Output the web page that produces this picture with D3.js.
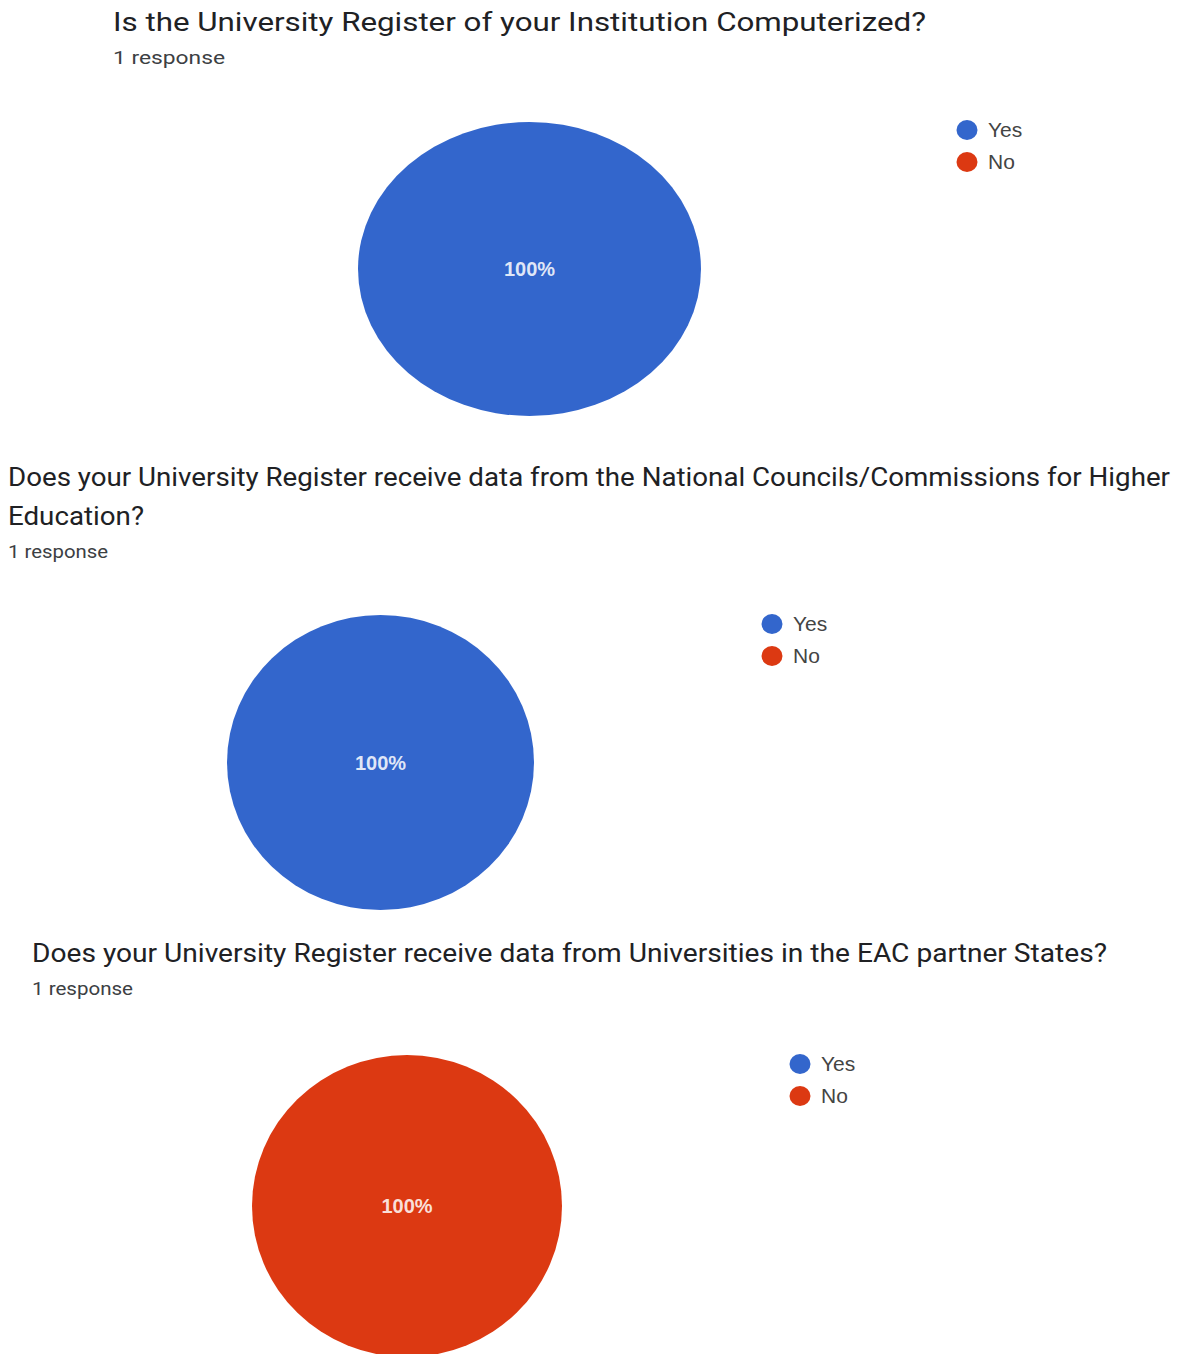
<!DOCTYPE html>
<html>
<head>
<meta charset="utf-8">
<script src="https://cdn.jsdelivr.net/npm/d3@7"></script>
<style>
  body { margin: 0; background: #fff; }
  svg { display: block; }
</style>
</head>
<body>
<script>
var width = 1184, height = 1354;

// chart data
var titles = [
    ["Is the University Register of your Institution Computerized?"],
    ["Does your University Register receive data from the National Councils/Commissions for Higher", "Education?"],
    ["Does your University Register receive data from Universities in the EAC partner States?"]
];
var responseLabels = ["1 response", "1 response", "1 response"];
var categories = ["Yes", "No"];
var yesValues = [1, 1, 0];
var noValues = [0, 0, 1];
var colors = ["#3366cc", "#dc3912"];

// layout for each panel
var panels = [
    { tx: 113, ty: 31, fs: 26, tw: [813], rx: 113, ry: 64, rw: 112, cx: 529.5, cy: 269, erx: 171.5, ery: 147, lx: 967, ly: 130 },
    { tx: 8, ty: 486, fs: 25, tw: [1162, 136], rx: 8, ry: 558, rw: 100, cx: 380.5, cy: 762.5, erx: 153.5, ery: 147.5, lx: 772, ly: 624 },
    { tx: 32, ty: 962, fs: 25, tw: [1075], rx: 32, ry: 995, rw: 101, cx: 407, cy: 1206, erx: 155, ery: 151, lx: 800, ly: 1064 }
];

var svg = d3.select("body")
    .append("svg")
    .attr("width", width)
    .attr("height", height);

var color = d3.scaleOrdinal()
    .domain(categories)
    .range(colors);

var pie = d3.pie()
    .sort(null)
    .value(function (d) { return d.value; });

var arc = d3.arc()
    .innerRadius(0)
    .outerRadius(1);

panels.forEach(function (p, i) {
    var g = svg.append("g");

    // title lines
    titles[i].forEach(function (line, j) {
        g.append("text")
            .attr("x", p.tx)
            .attr("y", p.ty + j * 39)
            .attr("textLength", p.tw[j])
            .attr("lengthAdjust", "spacingAndGlyphs")
            .style("font-family", "Roboto, 'Open Sans', sans-serif")
            .style("font-size", p.fs + "px")
            .style("fill", "#202124")
            .text(line);
    });

    g.append("text")
        .attr("x", p.rx)
        .attr("y", p.ry)
        .attr("textLength", p.rw)
        .attr("lengthAdjust", "spacingAndGlyphs")
        .style("font-family", "Roboto, 'Open Sans', sans-serif")
        .style("font-size", "18px")
        .style("fill", "#3c4043")
        .text(responseLabels[i]);

    var data = categories.map(function (c, k) {
        return { label: c, value: k === 0 ? yesValues[i] : noValues[i] };
    });
    var total = d3.sum(data, function (d) { return d.value; });

    // pie, stretched to the ellipse of the picture
    var pieG = g.append("g")
        .attr("transform", "translate(" + p.cx + "," + p.cy + ") scale(" + p.erx + "," + p.ery + ")");

    pieG.selectAll("path")
        .data(pie(data).filter(function (d) { return d.data.value > 0; }))
        .enter()
        .append("path")
        .attr("d", arc)
        .style("fill", function (d) { return color(d.data.label); });

    pie(data).filter(function (d) { return d.data.value > 0; }).forEach(function (d) {
        var c = d.endAngle - d.startAngle >= 2 * Math.PI - 1e-6 ? [0, 0] : d3.arc().innerRadius(0).outerRadius(0.6).centroid(d);
        g.append("text")
            .attr("x", p.cx + c[0] * p.erx)
            .attr("y", p.cy + c[1] * p.ery)
            .attr("text-anchor", "middle")
            .attr("dy", "0.35em")
            .style("font-family", "'Liberation Sans', Arial, sans-serif")
            .style("font-size", "20px")
            .style("font-weight", "bold")
            .style("fill", "#fff")
            .style("fill-opacity", 0.85)
            .text(Math.round(d.data.value / total * 100) + "%");
    });

    // legend
    var legend = g.selectAll(".legend")
        .data(categories)
        .enter()
        .append("g")
        .attr("transform", function (d, k) { return "translate(" + p.lx + "," + (p.ly + k * 32) + ")"; });

    legend.append("ellipse")
        .attr("rx", 10.5)
        .attr("ry", 10)
        .style("fill", function (d) { return color(d); });

    legend.append("text")
        .attr("x", 21)
        .attr("dy", "0.35em")
        .style("font-family", "'Liberation Sans', Arial, sans-serif")
        .style("font-size", "21px")
        .style("fill", "#444")
        .text(function (d) { return d; });
});
</script>
</body>
</html>
